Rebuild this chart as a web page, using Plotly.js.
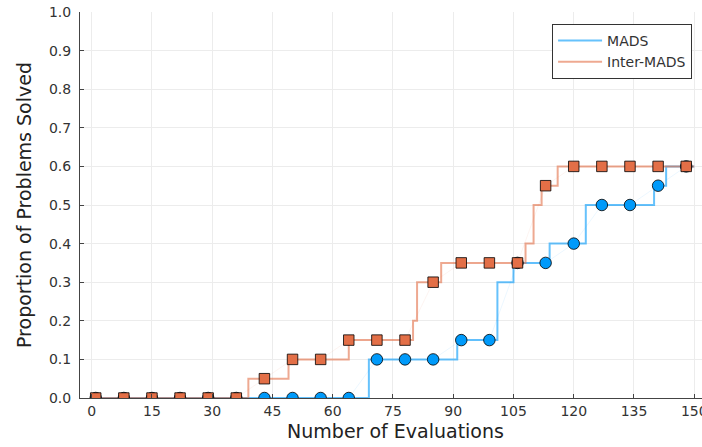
<!DOCTYPE html>
<html>
<head>
<meta charset="utf-8">
<script src="https://cdn.plot.ly/plotly-3.0.1.min.js"></script>
<style>
html, body { margin: 0; padding: 0; overflow: hidden; background: #fff; }
#chart { width: 711px; height: 447px; }
</style>
</head>
<body>
<div id="chart"></div>
<script>
// Step curves (performance profile)
const madsStepX = [1, 69, 91, 101, 105, 114, 123, 140, 143, 150];
const madsStepY = [0, 0.10, 0.15, 0.30, 0.35, 0.40, 0.50, 0.55, 0.60, 0.60];
const interStepX = [1, 39, 49, 64, 80, 81, 87, 108, 110, 112, 116, 150];
const interStepY = [0, 0.05, 0.10, 0.15, 0.20, 0.30, 0.35, 0.40, 0.50, 0.55, 0.60, 0.60];

// Marker samples
const markerX = [1, 8, 15, 22, 29, 36, 43, 50, 57, 64, 71, 78, 85, 92, 99, 106, 113, 120, 127, 134, 141, 148];
const madsMarkY = [0, 0, 0, 0, 0, 0, 0, 0, 0, 0, 0.10, 0.10, 0.10, 0.15, 0.15, 0.35, 0.35, 0.40, 0.50, 0.50, 0.55, 0.60];
const interMarkY = [0, 0, 0, 0, 0, 0, 0.05, 0.10, 0.10, 0.15, 0.15, 0.15, 0.30, 0.35, 0.35, 0.35, 0.55, 0.60, 0.60, 0.60, 0.60, 0.60];

const seriesNames = ['MADS', 'Inter-MADS'];
const xTicks = [0, 15, 30, 45, 60, 75, 90, 105, 120, 135, 150];
const yTicks = [0, 0.1, 0.2, 0.3, 0.4, 0.5, 0.6, 0.7, 0.8, 0.9, 1.0];

const blue = '0,154,250';
const orange = '227,111,71';

const traces = [
  { x: madsStepX, y: madsStepY, type: 'scatter', mode: 'lines', name: seriesNames[0],
    line: { shape: 'hv', color: 'rgba(' + blue + ',0.6)', width: 2 } },
  { x: interStepX, y: interStepY, type: 'scatter', mode: 'lines', name: seriesNames[1],
    line: { shape: 'hv', color: 'rgba(' + orange + ',0.6)', width: 2 } },
  { x: markerX, y: madsMarkY, type: 'scatter', mode: 'lines+markers', showlegend: false,
    line: { color: 'rgba(' + blue + ',0.08)', width: 1 },
    marker: { symbol: 'circle', size: 11.5, color: 'rgb(' + blue + ')', line: { color: 'rgba(0,0,0,0.8)', width: 1 } } },
  { x: markerX, y: interMarkY, type: 'scatter', mode: 'lines+markers', showlegend: false,
    line: { color: 'rgba(' + orange + ',0.08)', width: 1 },
    marker: { symbol: 'square', size: 10.5, color: 'rgb(' + orange + ')', line: { color: 'rgba(0,0,0,0.8)', width: 1 } } }
];

const layout = {
  width: 711, height: 447,
  margin: { l: 80, r: 0, t: 12, b: 49, pad: 0 },
  paper_bgcolor: '#fff', plot_bgcolor: '#fff',
  font: { family: 'DejaVu Sans', color: '#333' },
  showlegend: true,
  legend: {
    x: 0.970, xanchor: 'right', y: 0.969, yanchor: 'top',
    bordercolor: '#333', borderwidth: 1, bgcolor: '#fff',
    itemwidth: 44,
    font: { family: 'DejaVu Sans', size: 14, color: '#333' }
  },
  xaxis: {
    range: [-2.91, 154.17], tickvals: xTicks, ticktext: xTicks.map(String),
    ticks: 'inside', ticklen: 4, tickcolor: '#444',
    showline: true, linecolor: '#444', linewidth: 1,
    showgrid: true, gridcolor: '#ececec', gridwidth: 1, zeroline: false,
    tickfont: { family: 'DejaVu Sans', size: 14, color: '#333' },
    title: { text: 'Number of Evaluations', font: { family: 'DejaVu Sans', size: 19, color: '#222' }, standoff: 6 }
  },
  yaxis: {
    range: [0, 1], tickvals: yTicks, ticktext: yTicks.map(v => v.toFixed(1)),
    ticks: 'inside', ticklen: 4, tickcolor: '#444', ticklabelstandoff: 5,
    showline: true, linecolor: '#444', linewidth: 1,
    showgrid: true, gridcolor: '#ececec', gridwidth: 1, zeroline: false,
    tickfont: { family: 'DejaVu Sans', size: 14, color: '#333' },
    title: { text: 'Proportion of Problems Solved', font: { family: 'DejaVu Sans', size: 19, color: '#222' }, standoff: 12 }
  }
};

Plotly.newPlot('chart', traces, layout, { displayModeBar: false, staticPlot: true });
</script>
</body>
</html>
